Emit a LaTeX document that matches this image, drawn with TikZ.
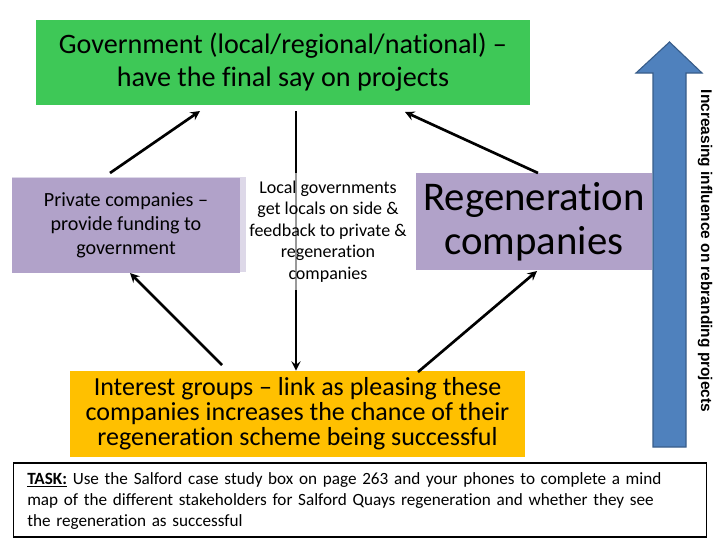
\documentclass[tikz,border=0pt]{standalone}
\usepackage{fontspec}
\setmainfont{Carlito}[Ligatures=CommonOff]
\newfontfamily\arialbold{Liberation Sans}
\usepackage{xcolor}
\usetikzlibrary{calc, positioning}
\definecolor{GovGreen}{HTML}{3EC857}
\definecolor{PlayerLilac}{HTML}{B1A2C9}
\definecolor{LilacEdge}{HTML}{DDD8E8}
\definecolor{GroupAmber}{HTML}{FFC000}
\definecolor{RiseBlue}{HTML}{4F81BD}
\definecolor{RiseEdge}{HTML}{385D8A}

\begin{document}
\begin{tikzpicture}[
  x=0.025cm, y=-0.025cm,
  box/.style={rectangle, inner sep=0pt, align=center, text=black},
  player/.style={box, fill=PlayerLilac, minimum width=5.7cm, minimum height=2.4cm},
  link/.style={->, >=stealth, line width=1.9pt, black}
]
  \useasboundingbox (0,0) rectangle (720,540);

  \node[box, fill=GovGreen, minimum width=12.35cm, minimum height=2.125cm,
        font=\fontsize{20}{23.5}\selectfont] (gov) at (283,62.5)
        {Government (local/regional/national) --\\have the final say on projects};

  \fill[LilacEdge] (12,177) rectangle (246,272);
  \node[player, minimum height=2.375cm, font=\fontsize{14.3}{17}\selectfont] (private) at (126,225.5)
        {Private companies --\\provide funding to\\government};

  \node[player, minimum width=5.9cm, minimum height=2.425cm, font=\fontsize{29}{31}\selectfont] (regen) at (534,221.5)
        {Regeneration\\companies};

  \node[box, fill=GroupAmber, minimum width=11.375cm, minimum height=2.15cm,
        font=\fontsize{18.5}{17.7}\selectfont] (groups) at (297.5,414)
        {Interest groups -- link as pleasing these\\companies increases the chance of their\\regeneration scheme being successful};

  % local government arrow runs behind the half-clear text box
  \draw[link] (296,111) -- (groups.north -| 296,0);
  \node[box, fill=white, fill opacity=0.6, text opacity=1, minimum width=4.1cm, minimum height=2.925cm,
        font=\fontsize{12.8}{15.2}\selectfont] (local) at (328,231.5)
        {Local governments\\get locals on side \&\\feedback to private \&\\regeneration\\companies};

  \draw[link] (110,173) -- (200,111);
  \draw[link] (538,173) -- (405,112);
  \draw[link] (222,365) -- (130,273);
  \draw[link] (418,372) -- (537,271);

  % influence arrow
  \draw[fill=RiseBlue, draw=RiseEdge, line width=0.8pt]
    (653,447) -- (653,73) -- (636,73) -- (669.5,42) -- (702,73) -- (686,73) -- (686,447) -- cycle;
  \node[box, rotate=-90, font=\arialbold\bfseries\fontsize{11}{12}\selectfont] (rise) at (705,251)
        {Increasing influence on rebranding projects};

  \node[box, draw=black, line width=0.8pt, minimum width=17.3cm, minimum height=1.85cm] (task) at (360,500) {};
  \node[box, anchor=west, align=left, text width=16.3cm,
        font=\fontsize{12.2}{14.9}\selectfont] (tasktext) at (27,501)
        {\hyphenpenalty=10000\relax\textbf{\underline{TASK:}} Use the Salford case study box on page 263 and your phones to complete a mind map of the different stakeholders for Salford Quays regeneration and whether they see the regeneration as successful};
\end{tikzpicture}
\end{document}
